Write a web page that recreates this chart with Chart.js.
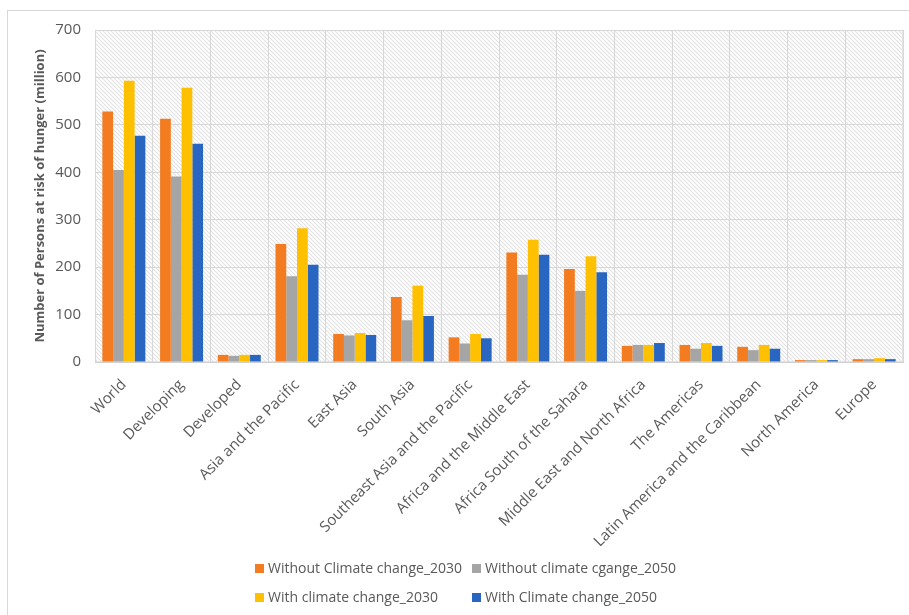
<!DOCTYPE html>
<html>
<head>
<meta charset="utf-8">
<script src="https://cdn.jsdelivr.net/npm/chart.js@4.4.1/dist/chart.umd.min.js"></script>
<style>
  html, body { margin: 0; padding: 0; background: #fff; }
  #wrap { position: relative; width: 909px; height: 615px; overflow: hidden; }
  #frame { position: absolute; left: 7px; top: 10px; width: 940px; height: 640px;
           border: 1.5px solid #d9d9d9; box-sizing: border-box; }
  #c { position: absolute; left: 0; top: 0; }
  #legend { position: absolute; left: 0; top: 0; width: 909px; height: 615px; pointer-events: none;
            font-family: "Open Sans", sans-serif; font-size: 14px; color: #595959; }
  .item { position: absolute; white-space: nowrap; line-height: 18px; }
  .sw { display: inline-block; width: 9px; height: 9px; margin-right: 4px; vertical-align: 0px; }
</style>
</head>
<body>
<div id="wrap">
  <div id="frame"></div>
  <canvas id="c" width="909" height="615"></canvas>
  <div id="legend"></div>
</div>
<script>
const regions = ["World", "Developing", "Developed", "Asia and the Pacific", "East Asia", "South Asia",
  "Southeast Asia and the Pacific", "Africa and the Middle East", "Africa South of the Sahara",
  "Middle East and North Africa", "The Americas", "Latin America and the Caribbean",
  "North America", "Europe"];

const seriesNames = ["Without Climate change_2030", "Without climate cgange_2050",
  "With climate change_2030", "With Climate change_2050"];

const withoutCC2030 = [528, 513, 15, 249, 59, 137, 52, 231, 196, 34, 36, 32, 4, 6];
const withoutCC2050 = [405, 391, 13, 181, 56, 88, 39, 184, 150, 36, 28, 25, 4, 6];
const withCC2030    = [593, 578, 15, 282, 61, 161, 59, 258, 223, 36, 40, 36, 4, 8];
const withCC2050    = [477, 460, 15, 205, 57, 97, 50, 226, 189, 40, 34, 28, 4, 6];

const yTicks = [0, 100, 200, 300, 400, 500, 600, 700];

const colors = ["#F47C20", "#A5A5A5", "#FFC000", "#2966C1"];
const values = [withoutCC2030, withoutCC2050, withCC2030, withCC2050];

// light diagonal hatch used as the plot-area fill
function hatchPattern(ctx) {
  const p = document.createElement("canvas");
  p.width = 4; p.height = 4;
  const g = p.getContext("2d");
  g.fillStyle = "#ffffff";
  g.fillRect(0, 0, 4, 4);
  g.strokeStyle = "#e2e2e2";
  g.lineWidth = 1.1;
  g.beginPath();
  g.moveTo(-1, -1); g.lineTo(5, 5);
  g.moveTo(-1, 3); g.lineTo(1, 5);
  g.moveTo(3, -1); g.lineTo(5, 1);
  g.stroke();
  return ctx.createPattern(p, "repeat");
}

const plotBackground = {
  id: "plotBackground",
  beforeDraw(chart) {
    const { ctx, chartArea: a } = chart;
    ctx.save();
    ctx.fillStyle = hatchPattern(ctx);
    ctx.fillRect(a.left, a.top, a.right - a.left, a.bottom - a.top);
    ctx.strokeStyle = "#e3e3e3";
    ctx.lineWidth = 1;
    ctx.strokeRect(a.left + 0.5, a.top + 0.5, a.right - a.left - 1, a.bottom - a.top - 1);
    ctx.restore();
  }
};

const font = "'Open Sans', sans-serif";

const chart = new Chart(document.getElementById("c"), {
  type: "bar",
  data: {
    labels: regions,
    datasets: seriesNames.map((name, i) => ({
      label: name,
      data: values[i],
      backgroundColor: colors[i],
      borderWidth: 0,
      barPercentage: 1.0,
      categoryPercentage: 0.745
    }))
  },
  options: {
    responsive: false,
    animation: false,
    layout: { padding: { left: 32, top: 30, right: 6, bottom: 0 } },
    plugins: {
      legend: { display: false },
      tooltip: { enabled: false }
    },
    scales: {
      x: {
        offset: true,
        grid: { color: "#d8d8d8", lineWidth: 1, drawTicks: false, offset: true },
        border: { color: "#d0d0d0" },
        ticks: {
          color: "#595959", font: { family: font, size: 15 },
          maxRotation: 45, minRotation: 45, autoSkip: false, padding: 14
        },
        afterFit(s) { s.height = 615 - 362; }
      },
      y: {
        min: 0, max: 700,
        afterBuildTicks(s) { s.ticks = yTicks.map(v => ({ value: v })); },
        grid: { color: "#d8d8d8", lineWidth: 1, drawTicks: false },
        border: { display: false },
        ticks: { color: "#595959", font: { family: font, size: 15 }, padding: 14 },
        title: {
          display: true,
          text: "Number of Persons at risk of hunger (million)",
          color: "#595959",
          font: { family: font, size: 13, weight: "bold" },
          padding: { top: 0, bottom: 0 }
        },
        afterFit(s) { s.width = 95 - 32; }
      }
    }
  },
  plugins: [plotBackground]
});

// two-column legend under the chart
const legend = document.getElementById("legend");
const spots = [[255, 559], [472, 559], [255, 588], [472, 588]];
seriesNames.forEach((name, i) => {
  const d = document.createElement("div");
  d.className = "item";
  d.style.left = spots[i][0] + "px";
  d.style.top = spots[i][1] + "px";
  const sw = document.createElement("span");
  sw.className = "sw";
  sw.style.background = colors[i];
  d.appendChild(sw);
  d.appendChild(document.createTextNode(name));
  legend.appendChild(d);
});
</script>
</body>
</html>
